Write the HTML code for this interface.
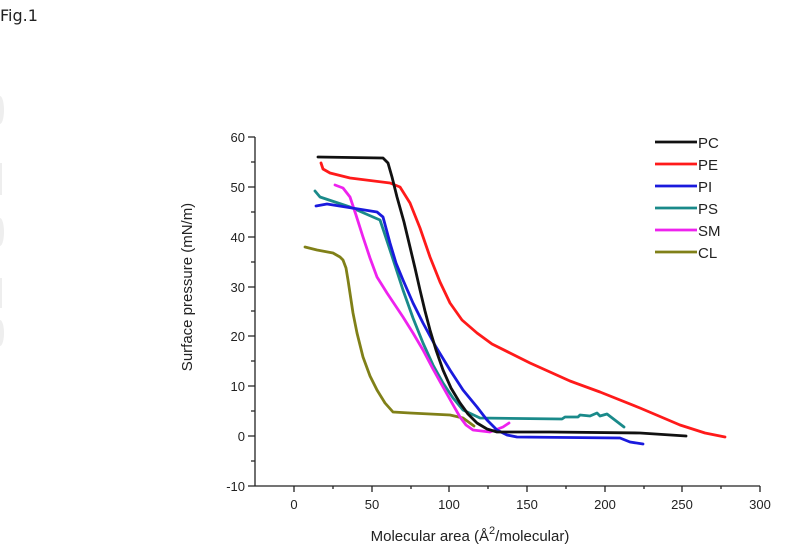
<!DOCTYPE html>
<html><head><meta charset="utf-8"><style>
html,body{margin:0;padding:0;background:#fff;}
svg{display:block;}
text{font-family:"Liberation Sans",Arial,sans-serif;fill:#222;}
</style></head><body>
<svg width="800" height="557" viewBox="0 0 800 557" xmlns="http://www.w3.org/2000/svg">
<rect width="800" height="557" fill="#fff"/>
<text x="0" y="21" font-size="16" style="font-family:'DejaVu Sans',sans-serif" fill="#222">Fig.1</text>
<g fill="#eee">
<ellipse cx="0" cy="110" rx="4" ry="14"/>
<rect x="0" y="163" width="2" height="32"/>
<ellipse cx="0" cy="232" rx="4" ry="14"/>
<rect x="0" y="278" width="2" height="30"/>
<ellipse cx="0" cy="333" rx="4" ry="13"/>
</g>
<g stroke="#222" stroke-width="1.3" fill="none">
<line x1="255" y1="137" x2="255" y2="486"/>
<line x1="255" y1="486" x2="760" y2="486"/>
<path d="M248 137H255M248 187H255M248 237H255M248 287H255M248 336H255M248 386H255M248 436H255M248 486H255"/>
<path d="M251 162H255M251 212H255M251 262H255M251 311H255M251 361H255M251 411H255M251 461H255"/>
<path d="M294 486V492M372 486V492M449 486V492M527 486V492M605 486V492M682 486V492M760 486V492"/>
<path d="M333 486V489M411 486V489M488 486V489M566 486V489M644 486V489M721 486V489"/>
</g>
<g font-size="13" text-anchor="end">
<text x="245" y="142">60</text><text x="245" y="192">50</text><text x="245" y="242">40</text>
<text x="245" y="292">30</text><text x="245" y="341">20</text><text x="245" y="391">10</text>
<text x="245" y="441">0</text><text x="245" y="491">-10</text>
</g>
<g font-size="13" text-anchor="middle">
<text x="294" y="509">0</text><text x="372" y="509">50</text><text x="449" y="509">100</text>
<text x="527" y="509">150</text><text x="605" y="509">200</text><text x="682" y="509">250</text><text x="760" y="509">300</text>
</g>
<text x="470" y="541" font-size="15" text-anchor="middle">Molecular area (Å<tspan dy="-7" font-size="11">2</tspan><tspan dy="7">/molecular)</tspan></text>
<text transform="translate(192,287) rotate(-90)" font-size="15" text-anchor="middle">Surface pressure (mN/m)</text>
<g fill="none" stroke-width="2.8" stroke-linejoin="round" stroke-linecap="round">
<path stroke="#ff1a1a" d="M321 163 L323 169 L330 173 L350 178 L390 183 L400 187 L410 203 L420 228 L430 257 L440 282 L450 303 L462 320 L477 333 L492 344 L510 353 L530 363 L550 372 L570 381 L600 392 L640 408 L680 425 L705 433 L725 437"/>
<path stroke="#808018" d="M305 247 L317 250 L333 253 L340 257 L343 260 L346 268 L348 280 L353 313 L357 333 L363 357 L370 376 L377 390 L385 403 L393 412 L410 413 L450 415 L463 418 L474 426"/>
<path stroke="#1a8a8a" d="M315 191 L320 197 L350 207 L373 217 L380 220 L390 250 L403 290 L413 318 L423 343 L433 365 L443 383 L453 398 L463 410 L480 418 L562 419 L565 417 L578 417 L580 415 L590 416 L597 413 L600 416 L607 414 L624 427"/>
<path stroke="#ee22ee" d="M335 185 L343 188 L350 197 L356 215 L363 237 L370 258 L377 277 L387 293 L403 317 L413 333 L423 350 L433 369 L443 387 L452 403 L460 417 L466 425 L473 430 L490 432 L503 427 L509 423"/>
<path stroke="#1a1add" d="M316 206 L327 204 L377 212 L383 217 L390 243 L396 263 L403 280 L413 303 L423 323 L436 347 L450 370 L463 390 L477 407 L487 420 L497 430 L507 435 L517 437 L620 438 L630 442 L643 444"/>
<path stroke="#111" d="M318 157 L383 158 L388 163 L392 177 L397 197 L404 222 L410 247 L415 268 L420 290 L425 311 L430 330 L436 350 L443 370 L451 388 L460 403 L468 414 L477 423 L487 429 L497 432 L550 432 L640 433 L686 436"/>
</g>
<g stroke-width="2.8">
<line x1="655" y1="142" x2="697" y2="142" stroke="#111"/>
<line x1="655" y1="164" x2="697" y2="164" stroke="#ff1a1a"/>
<line x1="655" y1="186" x2="697" y2="186" stroke="#1a1add"/>
<line x1="655" y1="208" x2="697" y2="208" stroke="#1a8a8a"/>
<line x1="655" y1="230" x2="697" y2="230" stroke="#ee22ee"/>
<line x1="655" y1="252" x2="697" y2="252" stroke="#808018"/>
</g>
<g font-size="15">
<text x="698" y="148">PC</text><text x="698" y="170">PE</text><text x="698" y="192">PI</text>
<text x="698" y="214">PS</text><text x="698" y="236">SM</text><text x="698" y="258">CL</text>
</g>
</svg>
</body></html>
